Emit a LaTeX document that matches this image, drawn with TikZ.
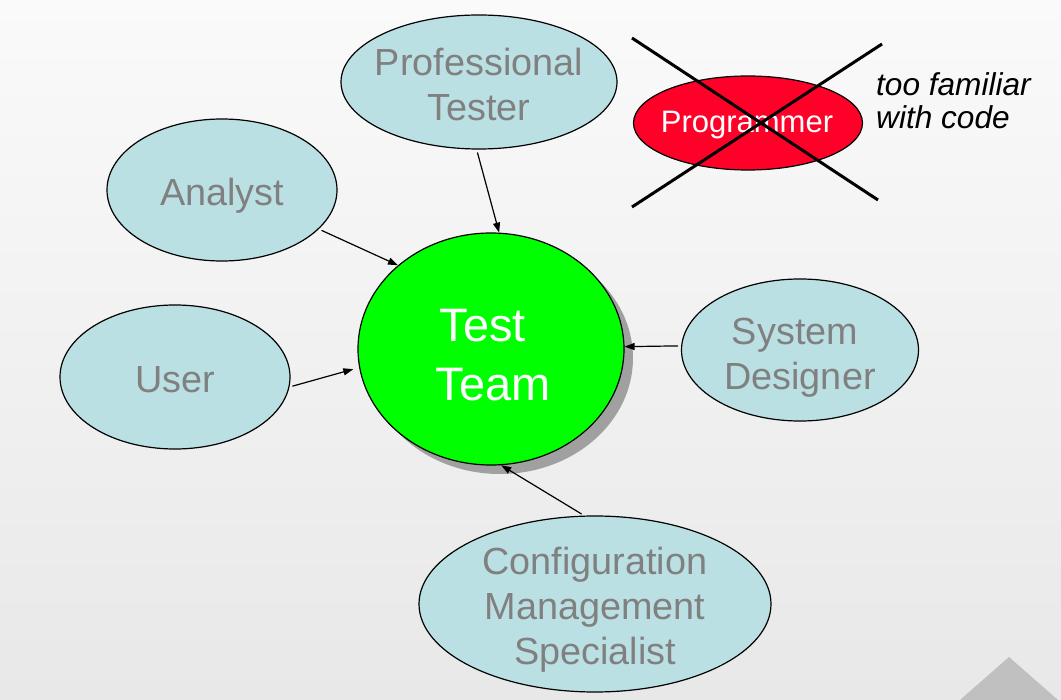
\documentclass[tikz,border=0pt]{standalone}
\usepackage{fontspec}
\setmainfont{Liberation Sans}
\usetikzlibrary{shapes.geometric,arrows.meta,shadows}
\definecolor{bgtop}{RGB}{250,250,250}
\definecolor{bgbot}{RGB}{232,232,232}
\definecolor{cyanfill}{RGB}{187,224,227}
\definecolor{txtgray}{RGB}{128,128,128}
\definecolor{ttgreen}{RGB}{0,255,0}
\definecolor{progred}{RGB}{255,0,40}
\definecolor{shadowgray}{RGB}{160,160,160}
\definecolor{trigray}{RGB}{192,192,192}
\begin{document}
\begin{tikzpicture}[x=1pt,y=-1pt,
  role/.style={ellipse, draw=black, line width=1.2pt, fill=cyanfill, inner sep=0pt},
  rolelabel/.style={text=txtgray, align=center, font=\fontsize{37.8}{45}\selectfont},
  conn/.style={line width=1.2pt, shorten <=3pt, -{Triangle[length=10pt,width=7pt]}},
  crossline/.style={line width=3pt},
]
\useasboundingbox (0,0) rectangle (1061,700);
\shade[top color=bgtop, bottom color=bgbot] (0,0) rectangle (1061,700);
\fill[trigray] (960,700) -- (1009,657) -- (1058,700) -- cycle;

% role nodes
\node[role, minimum width=276pt, minimum height=134pt,
  label={[rolelabel, yshift=-2pt]center:Professional\\Tester}] (pt) at (479,82) {};
\node[role, minimum width=230pt, minimum height=142pt,
  label={[rolelabel, yshift=-6pt]center:Analyst}] (an) at (222,190) {};
\node[role, minimum width=230pt, minimum height=144pt,
  label={[rolelabel, yshift=-3pt]center:User}] (us) at (175,377) {};
\node[role, minimum width=237pt, minimum height=142pt,
  label={[rolelabel, yshift=-8pt]center:System\hspace*{10pt}\\Designer}] (sd) at (800,350) {};
\node[role, minimum width=352pt, minimum height=176pt,
  label={[rolelabel, yshift=-6pt]center:Configuration\\Management\\Specialist}] (cm) at (595,604) {};

% central node
\node[ellipse, draw=black, line width=1.2pt, fill=ttgreen, inner sep=0pt,
  minimum width=266pt, minimum height=232pt,
  drop shadow={shadow xshift=9pt, shadow yshift=-9pt, fill=shadowgray, opacity=1},
  label={[text=white, align=left, font=\fontsize{47}{59}\selectfont, yshift=-6pt, xshift=2pt]center:\hspace*{4pt}Test\\Team}] (tt) at (491,349) {};

% programmer
\node[ellipse, draw=black, line width=1.2pt, fill=progred, inner sep=0pt,
  minimum width=229pt, minimum height=94pt,
  label={[text=white, font=\fontsize{31}{37}\selectfont, yshift=-2pt, xshift=-1pt]center:Programmer}] (prog) at (748,123) {};
\coordinate (x1a) at (632,38);
\coordinate (x1b) at (878,200);
\coordinate (x2a) at (882,44);
\coordinate (x2b) at (632,207);
\draw[crossline] (x1a) -- (x1b);
\draw[crossline] (x2a) -- (x2b);

\node[anchor=west, align=left, inner sep=0pt,
  font=\itshape\fontsize{31.6}{33}\selectfont] (note) at (876,101) {too familiar\\with code};

% connectors
\draw[conn] (pt.-92) -- (tt.86);
\draw[conn] (an.-22) -- (tt.138);
\draw[conn, shorten >=6pt] (us.-5) -- (tt.188);
\draw[conn] (sd.178) -- (tt.1);
\draw[conn] (cm.97) -- (tt.-85);
\end{tikzpicture}
\end{document}
